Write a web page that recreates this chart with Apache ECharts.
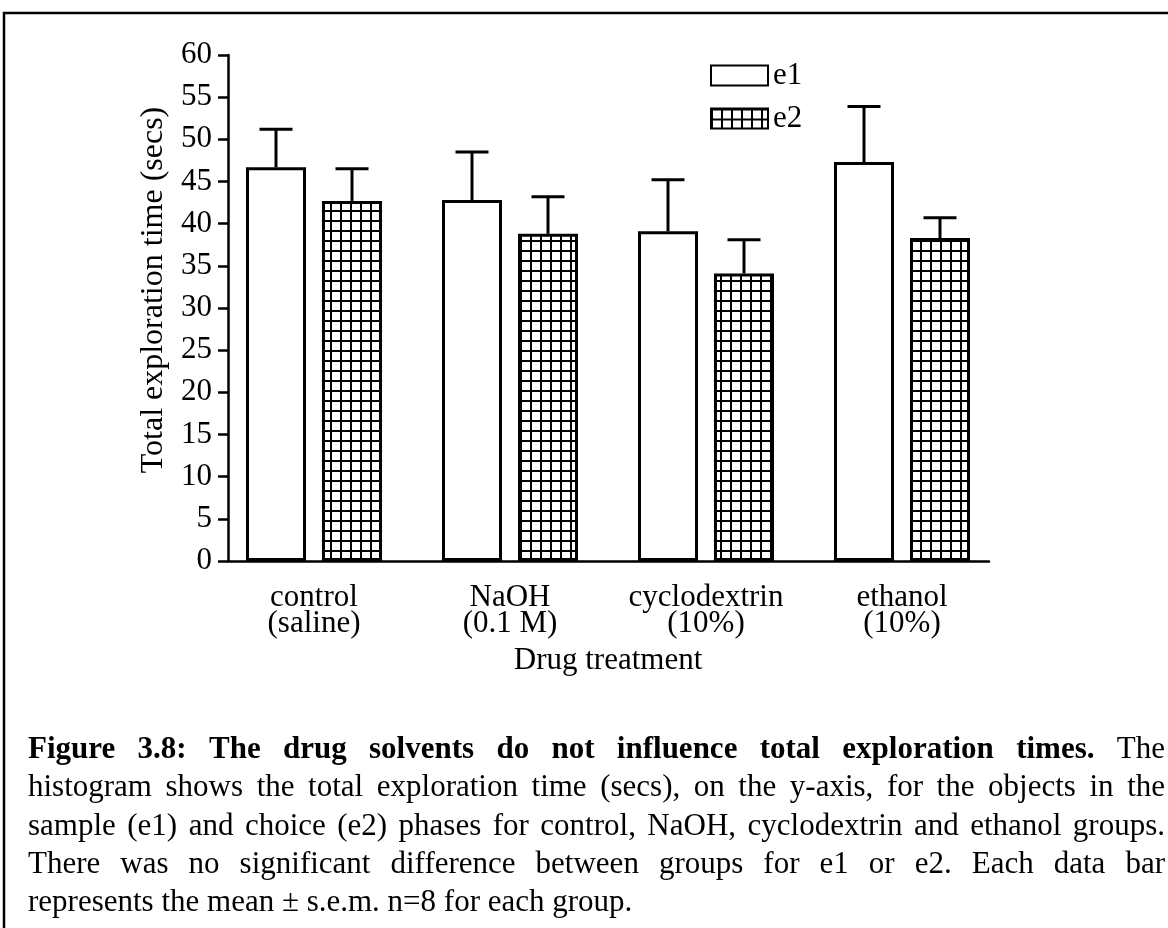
<!DOCTYPE html>
<html>
<head>
<meta charset="utf-8">
<script src="https://cdn.jsdelivr.net/npm/echarts@6/dist/echarts.min.js"></script>
<style>
html, body { margin: 0; padding: 0; background: #fff; }
#chart { width: 1168px; height: 928px; }
</style>
</head>
<body>
<div id="chart"></div>
<script>
// data
var groupNames = ['control', 'NaOH', 'cyclodextrin', 'ethanol'];
var groupSub = ['(saline)', '(0.1 M)', '(10%)', '(10%)'];
var e1Mean = [46.7, 42.8, 39.1, 47.3];
var e1Sem = [4.5, 5.7, 6.1, 6.6];
var e2Mean = [42.7, 38.8, 34.1, 38.3];
var e2Sem = [3.8, 4.4, 4.0, 2.4];
var yMin = 0, yMax = 60, yStep = 5;

// caption, line by line as in the figure; first boldWords words are bold
var captionLines = [
	'Figure 3.8: The drug solvents do not influence total exploration times. The',
	'histogram shows the total exploration time (secs), on the y-axis, for the objects in the',
	'sample (e1) and choice (e2) phases for control, NaOH, cyclodextrin and ethanol groups.',
	'There was no significant difference between groups for e1 or e2. Each data bar',
	'represents the mean \u00b1 s.e.m. n=8 for each group.'
];
var boldWords = 11;

var FONT = '"Liberation Serif", "Times New Roman", serif';
var barW = 60;      // bar width (px)
var barGapPx = 16;  // gap between e1 and e2 bars
var capW = 33;      // error bar cap width

// grid fill for e2
var hatch = document.createElement('canvas');
hatch.width = 10;
hatch.height = 10;
var hctx = hatch.getContext('2d');
hctx.fillStyle = '#fff';
hctx.fillRect(0, 0, 10, 10);
hctx.fillStyle = '#000';
hctx.fillRect(0, 0, 10, 2);
hctx.fillRect(0, 0, 2, 10);

var categories = groupNames.map(function(n, i) { return n + '\n' + groupSub[i]; });

var errData = function(mean, sem) {
	return mean.map(function(m, i) { return [i, m, sem[i]]; });
};

var errorBars = function(offset) {
	return function(params, api) {
		var cat = api.value(0), mean = api.value(1), sem = api.value(2);
		var base = api.coord([cat, mean]);
		var top = api.coord([cat, mean + sem]);
		var x = base[0] + offset;
		var s = { stroke: '#000', lineWidth: 3 };
		return {
			type: 'group',
			children: [
				{ type: 'line', shape: { x1: x, y1: base[1], x2: x, y2: top[1] }, style: s },
				{ type: 'line', shape: { x1: x - capW / 2, y1: top[1], x2: x + capW / 2, y2: top[1] }, style: s }
			]
		};
	};
};

// justified caption built from measured word widths
var measure = document.createElement('canvas').getContext('2d');
var capLeft = 28, capRight = 1165, capTop = 750, capStep = 38.3, capSize = 31;
var captionGraphics = [];
var wordIndex = 0;
captionLines.forEach(function(line, li) {
	var words = line.split(' ');
	var fonts = words.map(function() {
		var bold = wordIndex < boldWords;
		wordIndex++;
		return bold ? 'bold' : 'normal';
	});
	var widths = words.map(function(w, k) {
		measure.font = fonts[k] + ' ' + capSize + 'px ' + FONT;
		return measure.measureText(w).width;
	});
	var total = widths.reduce(function(a, b) { return a + b; }, 0);
	var last = li === captionLines.length - 1;
	measure.font = 'normal ' + capSize + 'px ' + FONT;
	var space = last ? measure.measureText(' ').width : (capRight - capLeft - total) / (words.length - 1);
	var x = capLeft;
	words.forEach(function(w, k) {
		captionGraphics.push({
			type: 'text',
			x: x,
			y: capTop + li * capStep,
			style: {
				text: w,
				fontFamily: FONT,
				fontSize: capSize,
				fontWeight: fonts[k],
				fill: '#000',
				verticalAlign: 'middle'
			}
		});
		x += widths[k] + space;
	});
});

var myChart = echarts.init(document.getElementById('chart'));

var option = {
	animation: false,
	backgroundColor: '#fff',
	textStyle: { fontFamily: FONT, color: '#000' },
	legend: {
		data: ['e1', 'e2'],
		orient: 'vertical',
		left: 710,
		top: 60,
		padding: 0,
		icon: 'rect',
		itemWidth: 57,
		itemHeight: 20,
		itemGap: 12,
		textStyle: { fontFamily: FONT, fontSize: 31, color: '#000', lineHeight: 20 }
	},
	grid: [
		{ left: 216, right: 168, top: 55, bottom: 367 },
		{ left: 228, right: 179, top: 55, bottom: 367 }
	],
	xAxis: [
		{
			type: 'category',
			gridIndex: 0,
			data: categories,
			axisLine: { show: false },
			axisTick: { show: false },
			axisLabel: {
				interval: 0,
				hideOverlap: false,
				margin: 24,
				fontFamily: FONT,
				fontSize: 31,
				lineHeight: 26,
				color: '#000'
			},
			name: 'Drug treatment',
			nameLocation: 'middle',
			nameGap: 84,
			nameTextStyle: { fontFamily: FONT, fontSize: 31, color: '#000' }
		},
		{
			type: 'category',
			gridIndex: 1,
			data: categories,
			axisLine: { show: true, lineStyle: { color: '#000', width: 2.5 } },
			axisTick: { show: false },
			axisLabel: { show: false }
		}
	],
	yAxis: [
		{
			type: 'value',
			gridIndex: 0,
			min: yMin,
			max: yMax,
			interval: yStep,
			show: false
		},
		{
			type: 'value',
			gridIndex: 1,
			min: yMin,
			max: yMax,
			interval: yStep,
			splitLine: { show: false },
			axisLine: { show: true, lineStyle: { color: '#000', width: 2.5 } },
			axisTick: { show: true, length: 10, lineStyle: { color: '#000', width: 2.5 } },
			axisLabel: { margin: 16, fontFamily: FONT, fontSize: 31, color: '#000' },
			name: 'Total exploration time (secs)',
			nameLocation: 'middle',
			nameRotate: 90,
			nameGap: 58,
			nameTextStyle: { fontFamily: FONT, fontSize: 32, color: '#000', padding: [0, 0, 0, 36] }
		}
	],
	series: [
		{
			name: 'e1',
			type: 'bar',
			xAxisIndex: 0,
			yAxisIndex: 0,
			barWidth: barW,
			barGap: (barGapPx / barW * 100) + '%',
			data: e1Mean,
			itemStyle: { color: '#fff', borderColor: '#000', borderWidth: 3 }
		},
		{
			name: 'e2',
			type: 'bar',
			xAxisIndex: 0,
			yAxisIndex: 0,
			barWidth: barW,
			barGap: (barGapPx / barW * 100) + '%',
			data: e2Mean,
			itemStyle: { color: { image: hatch, repeat: 'repeat' }, borderColor: '#000', borderWidth: 3 }
		},
		{
			name: 'e1 sem',
			type: 'custom',
			xAxisIndex: 0,
			yAxisIndex: 0,
			renderItem: errorBars(-(barW + barGapPx) / 2),
			data: errData(e1Mean, e1Sem),
			z: 3
		},
		{
			name: 'e2 sem',
			type: 'custom',
			xAxisIndex: 0,
			yAxisIndex: 0,
			renderItem: errorBars((barW + barGapPx) / 2),
			data: errData(e2Mean, e2Sem),
			z: 3
		}
	],
	graphic: [
		{
			type: 'polyline',
			shape: { points: [[4, 928], [4, 13], [1168, 13]] },
			style: { stroke: '#000', lineWidth: 2.5, fill: null }
		}
	].concat(captionGraphics)
};
myChart.setOption(option);
</script>
</body>
</html>
